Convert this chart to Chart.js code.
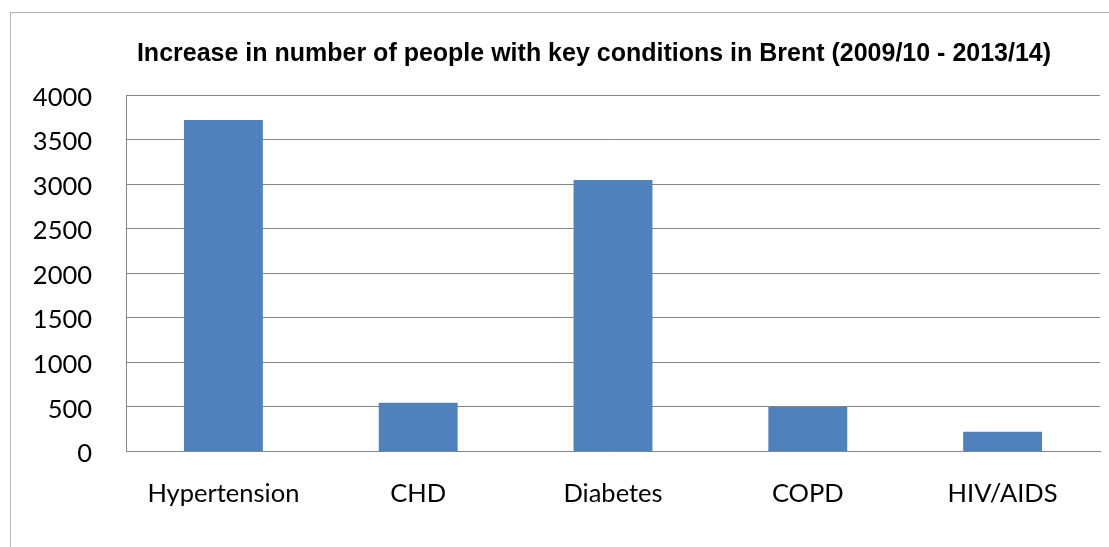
<!DOCTYPE html>
<html>
<head>
<meta charset="utf-8">
<title>Increase in number of people with key conditions in Brent</title>
<script src="https://cdn.jsdelivr.net/npm/chart.js@4/dist/chart.umd.min.js"></script>
<style>
  html, body { margin: 0; padding: 0; background: #fff; overflow: hidden; }
  #frame {
    position: absolute; left: 10px; top: 12px;
    width: 1130px; height: 560px;
    border: 1px solid #b4b4b4;
  }
  #chart { position: absolute; left: 0; top: 0; }
</style>
</head>
<body>
<div id="frame"></div>
<canvas id="chart" width="1109" height="547"></canvas>
<script>
// data
const conditions = ['Hypertension', 'CHD', 'Diabetes', 'COPD', 'HIV/AIDS'];
const increase = [3720, 545, 3045, 497, 220];
const yTicks = [0, 500, 1000, 1500, 2000, 2500, 3000, 3500, 4000];
const titleText = 'Increase in number of people with key conditions in Brent (2009/10 - 2013/14)';

const barColour = '#4f81bd';
const gridColour = '#868686';
const labelFont = { family: 'Lato', size: 25.5 };

const ctx = document.getElementById('chart').getContext('2d');

// the original title sits a bit right of the canvas centre
const shiftTitle = {
  id: 'shiftTitle',
  afterLayout(chart) {
    if (chart.titleBlock) chart.titleBlock.left = 88;
  }
};

new Chart(ctx, {
  type: 'bar',
  data: {
    labels: conditions,
    datasets: [{
      label: 'Increase',
      data: increase,
      backgroundColor: barColour,
      borderWidth: 0,
      categoryPercentage: 1,
      barPercentage: 0.405
    }]
  },
  options: {
    responsive: false,
    animation: false,
    layout: { padding: { top: 0, left: 0, right: 9, bottom: 11 } },
    plugins: {
      legend: { display: false },
      tooltip: { enabled: false },
      title: {
        display: true,
        text: titleText,
        color: '#000',
        font: { family: 'Liberation Sans', size: 25, weight: 'bold' },
        padding: { top: 39, bottom: 26 }
      }
    },
    scales: {
      x: {
        grid: { display: false, drawTicks: false },
        border: { color: gridColour, width: 1 },
        ticks: { color: '#000', font: labelFont, padding: 27, maxRotation: 0 }
      },
      y: {
        min: 0,
        max: 4000,
        afterBuildTicks: (scale) => { scale.ticks = yTicks.map(v => ({ value: v })); },
        afterFit: (scale) => { scale.width = 126; },
        grid: { color: gridColour, lineWidth: 1, drawTicks: false },
        border: { color: gridColour, width: 1 },
        ticks: { color: '#000', font: labelFont, padding: 34, labelOffset: 2.5, callback: (v) => String(v) }
      }
    }
  },
  plugins: [shiftTitle]
});
</script>
</body>
</html>
